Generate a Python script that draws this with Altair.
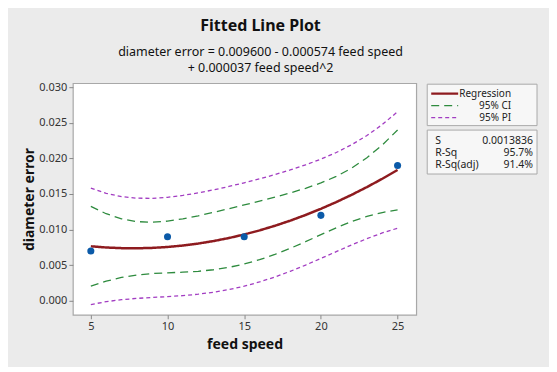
import altair as alt
import pandas as pd

# observed data
obs_x = [5, 10, 15, 20, 25]
obs_y = [0.007, 0.009, 0.009, 0.012, 0.019]

# fitted curve and 95% bands read at x = 5..25
grid_x = [5, 6, 7, 8, 9, 10, 11, 12, 13, 14, 15, 16, 17, 18, 19, 20, 21, 22, 23, 24, 25]
fit = [0.007655, 0.007488, 0.007395, 0.007376, 0.007431, 0.007560, 0.007763, 0.008040,
       0.008391, 0.008816, 0.009315, 0.009888, 0.010535, 0.011256, 0.012051, 0.012920,
       0.013863, 0.014880, 0.015971, 0.017136, 0.018375]
ci_lo = [0.002052, 0.002748, 0.003277, 0.003629, 0.003827, 0.003932, 0.004016, 0.004144,
         0.004363, 0.004698, 0.005166, 0.005770, 0.006507, 0.007360, 0.008304, 0.009292,
         0.010259, 0.011133, 0.011853, 0.012396, 0.012772]
ci_hi = [0.013258, 0.012228, 0.011513, 0.011123, 0.011035, 0.011188, 0.011510, 0.011936,
         0.012419, 0.012934, 0.013464, 0.014006, 0.014563, 0.015152, 0.015798, 0.016548,
         0.017467, 0.018627, 0.020089, 0.021876, 0.023978]
pi_lo = [-0.000521, -0.000122, 0.000156, 0.000341, 0.000472, 0.000588, 0.000728, 0.000925,
         0.001203, 0.001577, 0.002058, 0.002649, 0.003347, 0.004141, 0.005016, 0.005948,
         0.006904, 0.007845, 0.008732, 0.009526, 0.010199]
pi_hi = [0.015831, 0.015098, 0.014634, 0.014411, 0.014390, 0.014532, 0.014798, 0.015155,
         0.015579, 0.016055, 0.016572, 0.017127, 0.017723, 0.018371, 0.019086, 0.019892,
         0.020822, 0.021915, 0.023210, 0.024746, 0.026551]

series = ["Regression", "95% CI", "95% PI"]
series_colors = ["#8E1B1F", "#2E8B3E", "#A23DC2"]
series_dash = [[1, 0], [8, 5], [4, 3]]

x_ticks = [5, 10, 15, 20, 25]
y_ticks = [0.0, 0.005, 0.010, 0.015, 0.020, 0.025, 0.030]

stat_labels = ["S", "R-Sq", "R-Sq(adj)"]
stat_values = ["0.0013836", "95.7%", "91.4%"]

FONT = "Noto Sans"

rows = []
for name, s, vals in [("fit", "Regression", fit), ("ci_lo", "95% CI", ci_lo),
                      ("ci_hi", "95% CI", ci_hi), ("pi_lo", "95% PI", pi_lo),
                      ("pi_hi", "95% PI", pi_hi)]:
    for xv, yv in zip(grid_x, vals):
        rows.append({"x": xv, "y": yv, "series": s, "curve": name})
curves = pd.DataFrame(rows)
points = pd.DataFrame({"x": obs_x, "y": obs_y})
legend_df = pd.DataFrame({"row": [0, 1, 2], "series": series})
stats = pd.DataFrame({"row": [4, 5, 6], "label": stat_labels, "value": stat_values})

xs = alt.Scale(domain=[3.829, 26.217], nice=False, zero=False)
ys = alt.Scale(domain=[-0.00196, 0.03056], nice=False, zero=False)
cscale = alt.Scale(domain=series, range=series_colors)
dscale = alt.Scale(domain=series, range=series_dash)

x_axis = alt.Axis(values=x_ticks, labelOverlap=False)
y_axis = alt.Axis(values=y_ticks, format=".3f", labelOverlap=False, tickCount=7)

lines = alt.Chart(curves).mark_line().encode(
    x=alt.X("x:Q", scale=xs, title="feed speed", axis=x_axis),
    y=alt.Y("y:Q", scale=ys, title="diameter error", axis=y_axis),
    color=alt.Color("series:N", scale=cscale, legend=None),
    strokeDash=alt.StrokeDash("series:N", scale=dscale, legend=None),
    strokeWidth=alt.condition(alt.datum.series == "Regression", alt.value(2.5), alt.value(1.3)),
    detail="curve:N",
)

dots = alt.Chart(points).mark_circle(size=50, color="#0B5AA8", opacity=1).encode(
    x=alt.X("x:Q", scale=xs, title="feed speed", axis=x_axis),
    y=alt.Y("y:Q", scale=ys, title="diameter error", axis=y_axis),
)

legend_box = alt.Chart(pd.DataFrame({"k": [0]})).mark_rect(
    fill="#F7F7F7", stroke="#AAAAAA", strokeWidth=1
).encode(x=alt.value(355), x2=alt.value(465), y=alt.value(1), y2=alt.value(42.5))

stats_box = alt.Chart(pd.DataFrame({"k": [0]})).mark_rect(
    fill="#F7F7F7", stroke="#AAAAAA", strokeWidth=1
).encode(x=alt.value(355), x2=alt.value(465), y=alt.value(47), y2=alt.value(91))

ry = alt.Scale(domain=[0, 6], range=[10.5, 82.3])

leg_sym = alt.Chart(legend_df).mark_rule().encode(
    x=alt.value(359), x2=alt.value(386),
    y=alt.Y("row:Q", scale=ry, axis=None),
    color=alt.Color("series:N", scale=cscale, legend=None),
    strokeDash=alt.StrokeDash("series:N", scale=dscale, legend=None),
    strokeWidth=alt.condition(alt.datum.series == "Regression", alt.value(2.2), alt.value(1.3)),
)
leg_txt = alt.Chart(legend_df).mark_text(align="right", baseline="middle", fontSize=10,
                                         font=FONT, color="#222").encode(
    x=alt.value(439), y=alt.Y("row:Q", scale=ry, axis=None), text="series:N")

stat_lab = alt.Chart(stats).mark_text(align="left", baseline="middle", fontSize=10.5,
                                      font=FONT, color="#222").encode(
    x=alt.value(363), y=alt.Y("row:Q", scale=ry, axis=None), text="label:N")
stat_val = alt.Chart(stats).mark_text(align="right", baseline="middle", fontSize=10.5,
                                      font=FONT, color="#222").encode(
    x=alt.value(461), y=alt.Y("row:Q", scale=ry, axis=None), text="value:N")

main = alt.layer(lines, dots)
side = alt.layer(legend_box, stats_box, leg_sym, leg_txt, stat_lab, stat_val)

chart = alt.layer(side, main).resolve_scale(y="independent").properties(
    width=344, height=232,
    autosize=alt.AutoSizeParams(type="none"),
    padding={"left": 65, "top": 75, "right": 133, "bottom": 52},
    background="#EBEBEB",
    title=alt.TitleParams(
        text="Fitted Line Plot",
        subtitle=["diameter error = 0.009600 - 0.000574 feed speed",
                  "+ 0.000037 feed speed^2"],
        anchor="middle", dx=16, offset=7,
        font=FONT, fontSize=16, fontWeight="bold", color="#111",
        subtitleFont=FONT, subtitleFontSize=12.5, subtitleColor="#111",
        subtitlePadding=12, subtitleLineHeight=16,
    ),
).configure_view(
    fill="white", stroke="#A8A8A8", strokeWidth=1.2
).configure_axis(
    grid=False, domain=False, tickColor="#888", tickSize=4, labelPadding=2,
    labelFont=FONT, labelFontSize=11, labelColor="#333",
    titleFont=FONT, titleFontSize=14, titleFontWeight="bold", titleColor="#111",
).configure_axisX(titlePadding=6).configure_axisY(titlePadding=2)

chart.save("out.html", embed_options={"renderer": "svg", "actions": False})
